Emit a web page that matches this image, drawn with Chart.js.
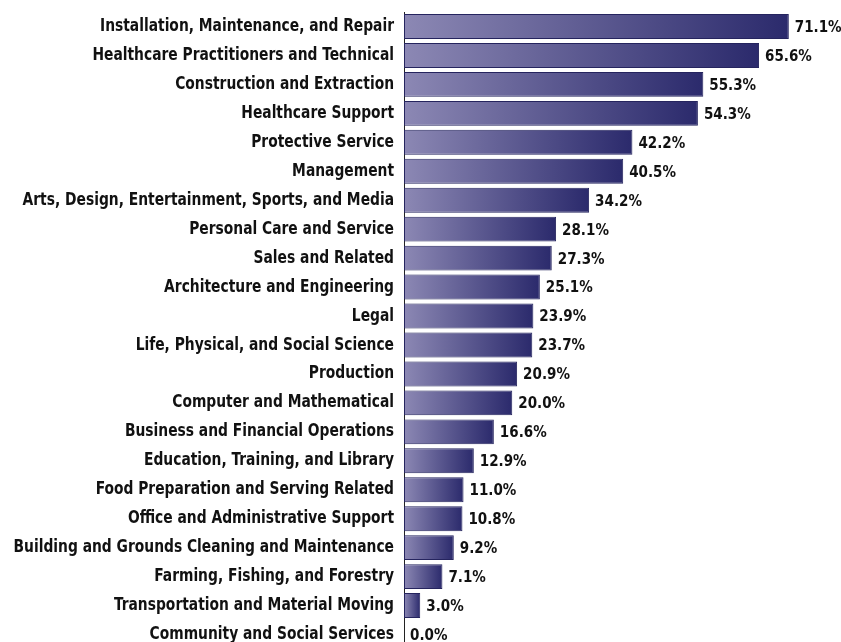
<!DOCTYPE html>
<html>
<head>
<meta charset="utf-8">
<script src="https://cdn.jsdelivr.net/npm/chart.js@4"></script>
<style>
  html, body { margin: 0; padding: 0; background: #fff; overflow: hidden; }
  #wrap { width: 841px; height: 650px; }
</style>
</head>
<body>
<div id="wrap"><canvas id="occChart"></canvas></div>
<script>
// categories, top to bottom
const occupations = [
  'Installation, Maintenance, and Repair',
  'Healthcare Practitioners and Technical',
  'Construction and Extraction',
  'Healthcare Support',
  'Protective Service',
  'Management',
  'Arts, Design, Entertainment, Sports, and Media',
  'Personal Care and Service',
  'Sales and Related',
  'Architecture and Engineering',
  'Legal',
  'Life, Physical, and Social Science',
  'Production',
  'Computer and Mathematical',
  'Business and Financial Operations',
  'Education, Training, and Library',
  'Food Preparation and Serving Related',
  'Office and Administrative Support',
  'Building and Grounds Cleaning and Maintenance',
  'Farming, Fishing, and Forestry',
  'Transportation and Material Moving',
  'Community and Social Services'
];

// percent values
const shares = [71.1, 65.6, 55.3, 54.3, 42.2, 40.5, 34.2, 28.1, 27.3, 25.1, 23.9,
                23.7, 20.9, 20.0, 16.6, 12.9, 11.0, 10.8, 9.2, 7.1, 3.0, 0.0];

const xMax = 80;
const labelFont = '"DejaVu Sans Condensed", "Liberation Sans Narrow", sans-serif';

// each bar gets its own light-to-dark gradient
function barGradient(ctx) {
  const chart = ctx.chart;
  if (!chart.chartArea) return '#3a3875';
  const x = chart.scales.x;
  const x0 = x.getPixelForValue(0);
  const x1 = Math.max(x.getPixelForValue(ctx.raw), x0 + 1);
  const g = chart.ctx.createLinearGradient(x0, 0, x1, 0);
  g.addColorStop(0, '#8c88b4');
  g.addColorStop(1, '#2b2a6c');
  return g;
}

// category names (squeezed a bit to look like a condensed face) and value labels
const textLabels = {
  id: 'textLabels',
  afterDatasetsDraw(chart) {
    const c = chart.ctx;
    const meta = chart.getDatasetMeta(0);
    const left = chart.chartArea.left;

    c.save();
    c.font = 'bold 17.5px ' + labelFont;
    const squeeze = 294 / c.measureText(occupations[0]).width;
    c.fillStyle = '#111';
    c.textAlign = 'right';
    c.textBaseline = 'middle';
    meta.data.forEach((bar, i) => {
      c.save();
      c.translate(left - 10, bar.y);
      c.scale(squeeze, 1);
      c.fillText(occupations[i], 0, 0);
      c.restore();
    });
    c.restore();

    c.save();
    c.font = 'bold 15px ' + labelFont;
    c.fillStyle = '#111';
    c.textAlign = 'left';
    c.textBaseline = 'middle';
    meta.data.forEach((bar, i) => {
      c.fillText(shares[i].toFixed(1) + '%', bar.x + 6, bar.y + 1.5);
    });
    c.restore();
  }
};

new Chart(document.getElementById('occChart'), {
  type: 'bar',
  data: {
    labels: occupations,
    datasets: [{
      data: shares,
      backgroundColor: barGradient,
      borderColor: '#25245e',
      borderWidth: 1,
      borderSkipped: false,
      categoryPercentage: 0.86,
      barPercentage: 1.0
    }]
  },
  options: {
    indexAxis: 'y',
    responsive: true,
    maintainAspectRatio: false,
    animation: false,
    layout: { padding: { top: 12, bottom: 1, right: 4, left: 0 } },
    plugins: {
      legend: { display: false },
      tooltip: { enabled: false }
    },
    scales: {
      x: {
        display: false,
        min: 0,
        max: xMax
      },
      y: {
        grid: { display: false, drawTicks: false },
        border: { display: true, color: '#222', width: 1 },
        ticks: { display: false },
        afterFit(scale) { scale.width = 404; }
      }
    }
  },
  plugins: [textLabels]
});
</script>
</body>
</html>
